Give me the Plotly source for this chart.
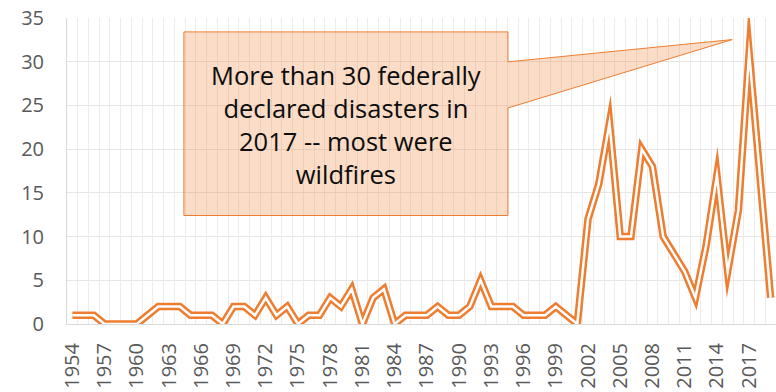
import plotly.graph_objects as go

years = list(range(1954, 2020))
disasters = [1, 1, 1, 0, 0, 0, 0, 1, 2, 2, 2, 1, 1, 1, 0, 2, 2, 1, 3, 1,
             2, 0, 1, 1, 3, 2, 4, 0, 3, 4, 0, 1, 1, 1, 2, 1, 1, 2, 5, 2,
             2, 2, 1, 1, 1, 2, 1, 0, 12, 16, 23, 10, 10, 20, 18, 10, 8, 6, 3, 9,
             17, 6, 13, 31, 17, 3]
tick_years = list(range(1954, 2020, 3))
tick_labels = [str(y) for y in tick_years]
callout_text = "More than 30 federally<br>declared disasters in<br>2017 -- most were<br>wildfires"

ORANGE = "#ED7D31"
FONT = "Open Sans"

fig = go.Figure()
fig.add_trace(go.Scatter(x=years, y=disasters, mode="lines",
                         line=dict(color=ORANGE, width=7.5), hoverinfo="skip",
                         showlegend=False))
fig.add_trace(go.Scatter(x=years, y=disasters, mode="lines",
                         line=dict(color="white", width=2.5), hoverinfo="skip",
                         showlegend=False))

# callout box with pointer (data coordinates)
bx0, bx1, by0, by1 = 1964.38, 1994.55, 12.41, 33.41
wy_top, wy_bot = 29.98, 24.71
tip_x, tip_y = 2015.42, 32.53
path = (f"M {bx0},{by1} L {bx1},{by1} L {bx1},{wy_top} L {tip_x},{tip_y} "
        f"L {bx1},{wy_bot} L {bx1},{by0} L {bx0},{by0} Z")
fig.add_shape(type="path", path=path, xref="x", yref="y",
              fillcolor="rgba(237,125,49,0.27)",
              line=dict(color=ORANGE, width=1), layer="above")
fig.add_annotation(x=(bx0 + bx1) / 2, y=22.85, xref="x", yref="y",
                   text=callout_text, showarrow=False, yanchor="middle",
                   font=dict(family=FONT, size=25.5, color="#0d0d0d"),
                   align="center")

fig.update_layout(
    width=776, height=392,
    margin=dict(l=67, r=0, t=18, b=68),
    paper_bgcolor="white", plot_bgcolor="white",
    font=dict(family=FONT, color="#595959", size=20),
)
fig.update_xaxes(range=[1953.5, 2019.5], tickmode="array",
                 tickvals=tick_years, ticktext=tick_labels, tickangle=-90,
                 showgrid=False, showline=True, linecolor="#d9d9d9", linewidth=1,
                 ticks="", ticklabelstandoff=10,
                 tickfont=dict(family=FONT, size=20, color="#595959"),
                 minor=dict(tick0=1953.5, dtick=1, showgrid=True,
                            gridcolor="#ececec", gridwidth=1),
                 zeroline=False)
fig.update_yaxes(range=[0, 35], dtick=5, showgrid=True, gridcolor="#e6e6e6",
                 gridwidth=1, showline=True, linecolor="#d9d9d9", linewidth=1,
                 ticks="", ticklabelstandoff=18, zeroline=False,
                 tickfont=dict(family=FONT, size=20, color="#595959"))

miter_js = """
var gd = document.getElementById('{plot_id}');
function sharpJoins(){
  gd.querySelectorAll('.scatterlayer path.js-line').forEach(function(p){
    p.style.strokeMiterlimit = '40';
    p.style.strokeLinejoin = 'miter';
  });
}
sharpJoins();
gd.on('plotly_afterplot', sharpJoins);
"""
fig.write_html("out.html", post_script=miter_js)
